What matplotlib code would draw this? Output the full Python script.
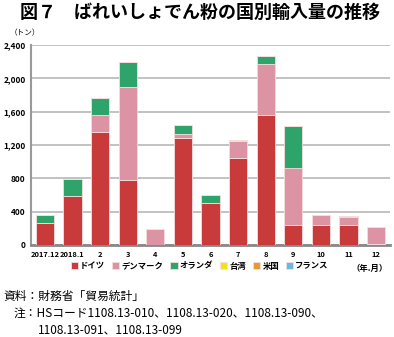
import matplotlib
matplotlib.use("Agg")
import matplotlib.pyplot as plt
import numpy as np

plt.rcParams['font.family'] = ['Noto Sans CJK JP', 'DejaVu Sans']

months = ["2017.12", "2018.1", "2", "3", "4", "5", "6", "7", "8", "9", "10", "11", "12"]
germany = [260, 585, 1360, 785, 0, 1290, 500, 1050, 1565, 245, 235, 245, 18]
denmark = [0, 0, 200, 1110, 195, 45, 0, 195, 605, 685, 125, 95, 195]
netherlands = [100, 205, 200, 300, 0, 105, 100, 0, 100, 500, 0, 0, 0]
taiwan = [0, 0, 0, 5, 0, 5, 0, 12, 0, 0, 0, 0, 0]
usa = [0, 0, 0, 0, 0, 0, 0, 0, 0, 0, 0, 12, 0]
france = [0, 0, 0, 0, 0, 0, 0, 0, 0, 0, 0, 0, 0]

series = [("ドイツ", germany, "#c93b3b"),
          ("デンマーク", denmark, "#dc93a4"),
          ("オランダ", netherlands, "#2ea36a"),
          ("台湾", taiwan, "#f0e418"),
          ("米国", usa, "#e59a35"),
          ("フランス", france, "#6db6e6")]

fig = plt.figure(figsize=(3.94, 3.37), dpi=100)
ax = fig.add_axes([31 / 394, 92 / 337, 359 / 394, 200 / 337])

x = np.arange(len(months))
bottom = np.zeros(len(months))
for name, vals, col in series:
    ax.bar(x, vals, 0.66, bottom=bottom, color=col, edgecolor="#f4dede", linewidth=0.6, label=name, zorder=3)
    bottom += np.array(vals)

ax.set_xlim(-0.5, 12.5)
ax.set_ylim(0, 2400)
ax.set_yticks(range(0, 2401, 400))
ax.set_yticklabels([f"{v:,}" for v in range(0, 2401, 400)], fontsize=6, fontweight="bold")
ax.set_xticks(x)
ax.set_xticklabels(months, fontsize=5.4, fontweight="bold")
ax.tick_params(length=0, pad=4)
ax.yaxis.grid(True, color="#b8b8b8", linewidth=1.2, zorder=0)
for s in ["top", "right"]:
    ax.spines[s].set_visible(False)
ax.spines["left"].set_color("#999999")
ax.spines["left"].set_linewidth(1.5)
ax.spines["bottom"].set_color("#888888")
ax.spines["bottom"].set_linewidth(2)

fig.text(20 / 394, 1 - 12 / 337, "図７　ばれいしょでん粉の国別輸入量の推移", fontsize=13,
         fontweight="bold", va="center", ha="left")
fig.text(10 / 394, 1 - 33 / 337, "（トン）", fontsize=5.5, va="center", ha="left")
fig.text(370 / 394, 1 - 268 / 337, "（年.月）", fontsize=6, va="center", ha="center", fontweight="bold")

ax.legend(loc="upper center", bbox_to_anchor=(0.47, -0.045), ncol=6, frameon=False,
          handlelength=0.9, handleheight=0.9, handletextpad=0.25, columnspacing=0.8,
          prop={"size": 6, "weight": "bold"})

fig.text(3 / 394, 1 - 296 / 337, "資料：財務省「貿易統計」", fontsize=8.5, va="center", ha="left")
fig.text(14 / 394, 1 - 313 / 337, "注：HSコード1108.13-010、1108.13-020、1108.13-090、", fontsize=8.5,
         va="center", ha="left")
fig.text(38 / 394, 1 - 330 / 337, "1108.13-091、1108.13-099", fontsize=8.5, va="center", ha="left")

fig.savefig("out.png", dpi=100)
